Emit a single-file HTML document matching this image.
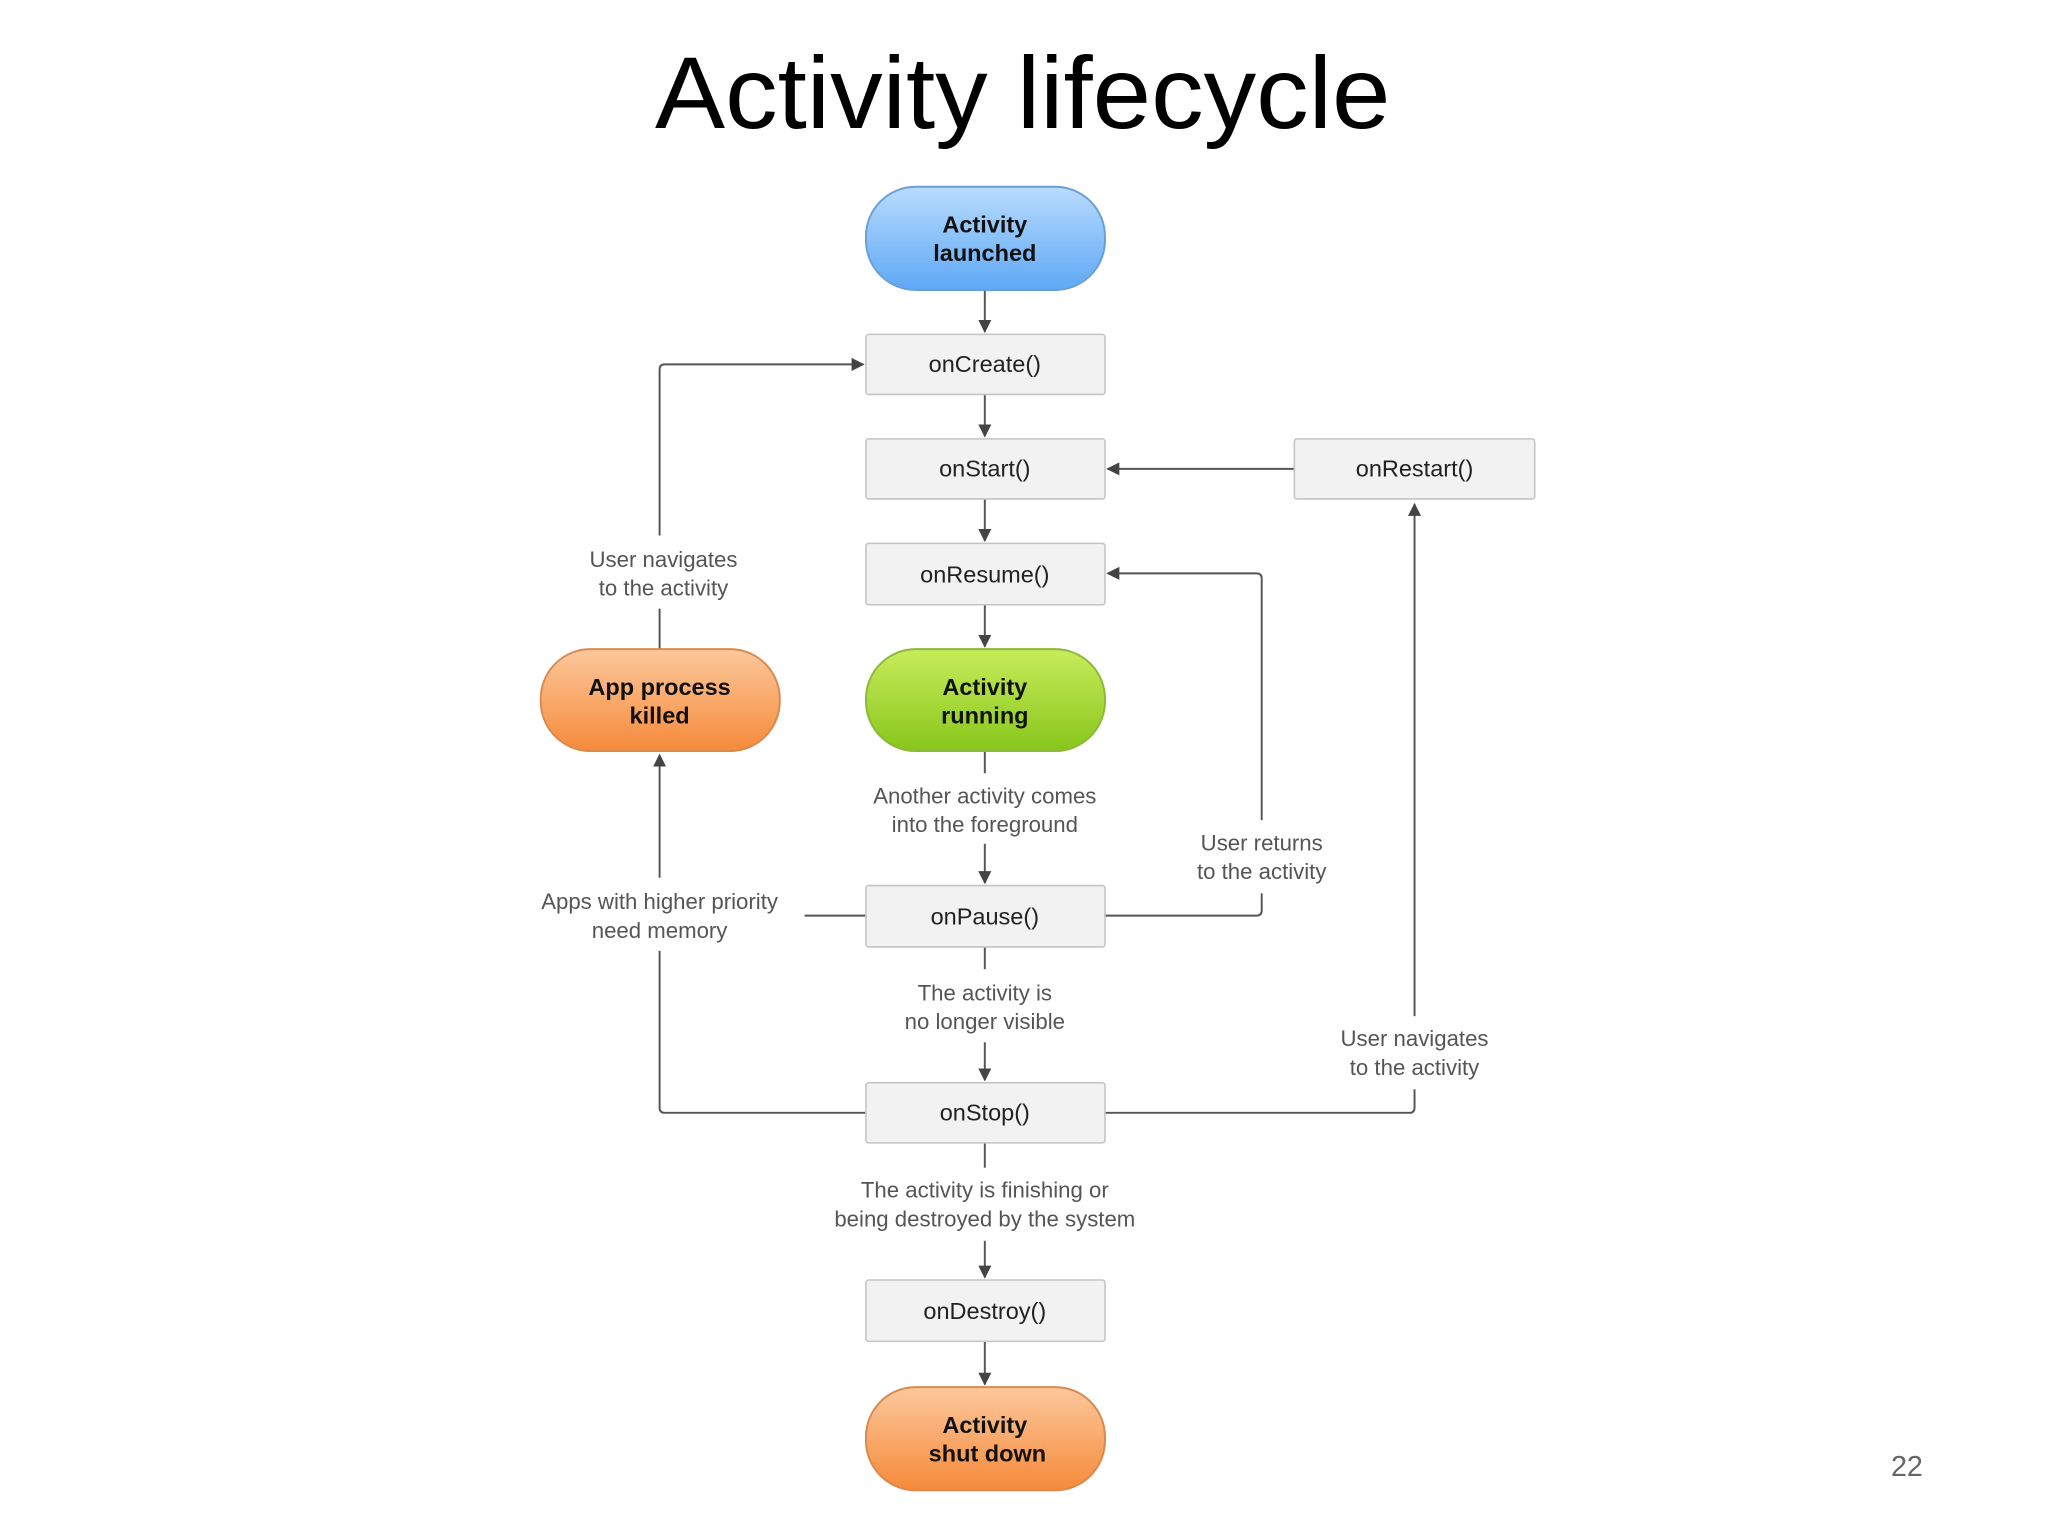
<!DOCTYPE html>
<html><head><meta charset="utf-8"><style>
html,body{margin:0;padding:0;background:#fff;}
svg{display:block;}
</style></head><body>
<svg width="2048" height="1536" viewBox="0 0 1568 1176" xmlns="http://www.w3.org/2000/svg" font-family="Liberation Sans, sans-serif">
<defs>
<linearGradient id="gb" x1="0" y1="0" x2="0" y2="1"><stop offset="0" stop-color="#b8dcfd"/><stop offset="1" stop-color="#5ea8f5"/></linearGradient>
<linearGradient id="gg" x1="0" y1="0" x2="0" y2="1"><stop offset="0" stop-color="#c8ec5a"/><stop offset="1" stop-color="#88c61c"/></linearGradient>
<linearGradient id="go" x1="0" y1="0" x2="0" y2="1"><stop offset="0" stop-color="#fcc89c"/><stop offset="1" stop-color="#f68a3a"/></linearGradient>
<marker id="ar" markerWidth="10" markerHeight="10" refX="9" refY="5" orient="auto" markerUnits="userSpaceOnUse"><path d="M0,0 L10,5 L0,10 z" fill="#444"/></marker>
</defs>
<text x="783" y="98" font-family="Liberation Sans, sans-serif" font-size="78" text-anchor="middle" fill="#000" textLength="563" lengthAdjust="spacingAndGlyphs">Activity lifecycle</text>
<text x="1460" y="1130" font-size="22" text-anchor="middle" fill="#666">22</text>

<g stroke="#555" stroke-width="1.5" fill="none">
<!-- vertical main arrows -->
<line x1="754" y1="222" x2="754" y2="254" marker-end="url(#ar)"/>
<line x1="754" y1="302" x2="754" y2="334" marker-end="url(#ar)"/>
<line x1="754" y1="382" x2="754" y2="414" marker-end="url(#ar)"/>
<line x1="754" y1="463" x2="754" y2="495" marker-end="url(#ar)"/>
<line x1="754" y1="575" x2="754" y2="676" marker-end="url(#ar)"/>
<line x1="754" y1="725" x2="754" y2="827" marker-end="url(#ar)"/>
<line x1="754" y1="875" x2="754" y2="978" marker-end="url(#ar)"/>
<line x1="754" y1="1027" x2="754" y2="1060" marker-end="url(#ar)"/>
<!-- onRestart to onStart -->
<line x1="991" y1="359" x2="848" y2="359" marker-end="url(#ar)"/>
<!-- onStop to onRestart -->
<path d="M846,852 H1079 Q1083,852 1083,848 V386" marker-end="url(#ar)"/>
<!-- onPause to onResume -->
<path d="M846,701 H962 Q966,701 966,697 V443 Q966,439 962,439 H848" marker-end="url(#ar)"/>
<!-- killed to onCreate -->
<path d="M505,497 V283 Q505,279 509,279 H661" marker-end="url(#ar)"/>
<!-- onStop/onPause to killed -->
<path d="M663,852 H509 Q505,852 505,848 V578" marker-end="url(#ar)"/>
<line x1="616" y1="701" x2="663" y2="701"/>
</g>

<!-- label backgrounds -->
<g fill="#fff">
<rect x="440" y="410" width="136" height="56"/>
<rect x="655" y="592" width="198" height="54"/>
<rect x="905" y="628" width="122" height="56"/>
<rect x="398" y="672" width="214" height="56"/>
<rect x="682" y="742" width="146" height="56"/>
<rect x="1015" y="778" width="136" height="56"/>
<rect x="622" y="894" width="264" height="56"/>
</g>
<g font-size="17" fill="#555" text-anchor="middle">
<text x="508" y="434">User navigates</text><text x="508" y="456">to the activity</text>
<text x="754" y="615">Another activity comes</text><text x="754" y="637">into the foreground</text>
<text x="966" y="651">User returns</text><text x="966" y="673">to the activity</text>
<text x="505" y="696">Apps with higher priority</text><text x="505" y="718">need memory</text>
<text x="754" y="766">The activity is</text><text x="754" y="788">no longer visible</text>
<text x="1083" y="801">User navigates</text><text x="1083" y="823">to the activity</text>
<text x="754" y="917">The activity is finishing or</text><text x="754" y="939">being destroyed by the system</text>
</g>

<!-- method boxes -->
<g fill="#f2f2f2" stroke="#c4c4c4" stroke-width="1.2">
<rect x="663" y="256" width="183" height="46" rx="2"/>
<rect x="663" y="336" width="183" height="46" rx="2"/>
<rect x="991" y="336" width="184" height="46" rx="2"/>
<rect x="663" y="416" width="183" height="47" rx="2"/>
<rect x="663" y="678" width="183" height="47" rx="2"/>
<rect x="663" y="829" width="183" height="46" rx="2"/>
<rect x="663" y="980" width="183" height="47" rx="2"/>
</g>
<g font-size="18" fill="#222" text-anchor="middle">
<text x="754" y="285">onCreate()</text>
<text x="754" y="365">onStart()</text>
<text x="1083" y="365">onRestart()</text>
<text x="754" y="446">onResume()</text>
<text x="754" y="708">onPause()</text>
<text x="754" y="858">onStop()</text>
<text x="754" y="1010">onDestroy()</text>
</g>

<!-- state nodes -->
<rect x="663" y="143" width="183" height="79" rx="38" fill="url(#gb)" stroke="#6b9fd8" stroke-width="1.5"/>
<rect x="663" y="497" width="183" height="78" rx="38" fill="url(#gg)" stroke="#8db83a" stroke-width="1.5"/>
<rect x="414" y="497" width="183" height="78" rx="38" fill="url(#go)" stroke="#d98a4e" stroke-width="1.5"/>
<rect x="663" y="1062" width="183" height="79" rx="38" fill="url(#go)" stroke="#d98a4e" stroke-width="1.5"/>
<g font-size="18" font-weight="bold" fill="#111" text-anchor="middle">
<text x="754" y="178">Activity</text><text x="754" y="200">launched</text>
<text x="754" y="532">Activity</text><text x="754" y="554">running</text>
<text x="505" y="532">App process</text><text x="505" y="554">killed</text>
<text x="754" y="1097">Activity</text><text x="756" y="1119">shut down</text>
</g>
</svg>
</body></html>
